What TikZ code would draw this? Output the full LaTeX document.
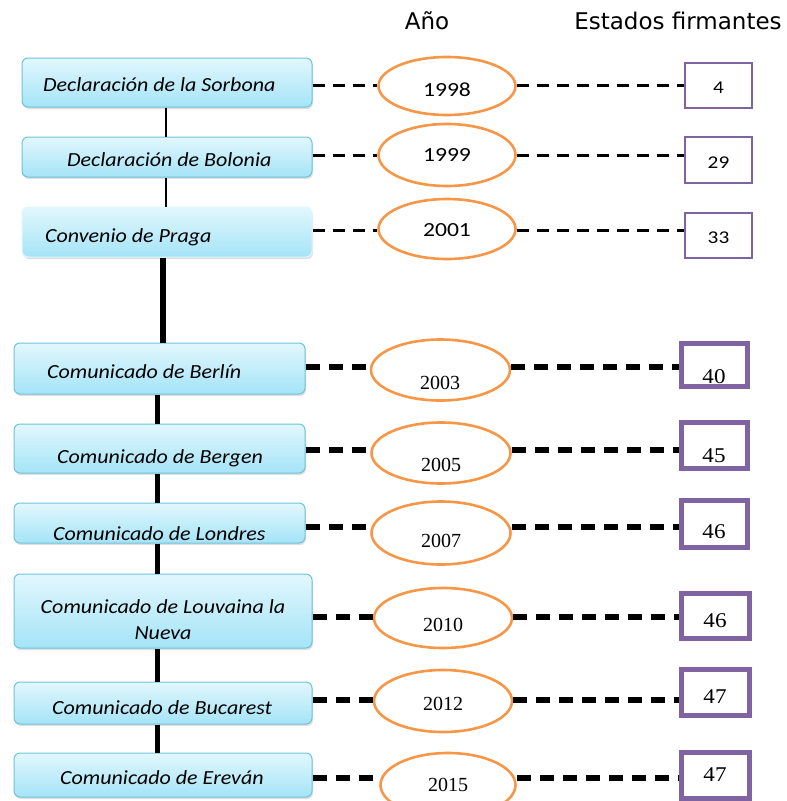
\documentclass[tikz,border=0pt]{standalone}
\usepackage{fontspec}
\usetikzlibrary{shapes.geometric,shadows}
\newfontfamily\boxfont{Carlito}[FakeStretch=1.1]
\newfontfamily\yrfont{Liberation Serif}
\newfontfamily\sqfont{Liberation Serif}[FakeStretch=1.1]
\newfontfamily\hdfont{DejaVu Sans}
\newfontfamily\topnum{Carlito}[FakeStretch=1.18]
\definecolor{boxtop}{HTML}{E2F7FD}
\definecolor{boxbot}{HTML}{A4E4F7}
\definecolor{boxline}{HTML}{6CC3DD}
\definecolor{ellc}{HTML}{F79646}
\definecolor{sqc}{HTML}{8064A2}
\tikzset{
  evbox/.style={rectangle, rounded corners=6pt, draw=boxline, line width=1pt,
     top color=boxtop, bottom color=boxbot, inner sep=0pt,
     drop shadow={opacity=0.25, shadow xshift=1pt, shadow yshift=-2pt}},
  evtext/.style={font=\boxfont\itshape\fontsize{20}{26}\selectfont, inner sep=0pt, anchor=west},
  yearell/.style={ellipse, draw=ellc, line width=2.6pt, inner sep=0pt},
  numsq/.style={rectangle, draw=sqc, inner sep=0pt},
  yrtxt/.style={font=\yrfont\fontsize{20}{20}\selectfont, inner sep=0pt},
  sqtxt/.style={font=\sqfont\fontsize{21}{20}\selectfont, inner sep=0pt},
  toptxt/.style={font=\topnum\fontsize{20}{20}\selectfont, inner sep=0pt},
  topsq/.style={font=\topnum\fontsize{18}{20}\selectfont, inner sep=0pt},
  dashA/.style={dashed, dash pattern=on 12pt off 8pt, line width=3pt},
  dashB/.style={dashed, dash pattern=on 14pt off 9pt, line width=5.5pt},
  hdr/.style={font=\hdfont\fontsize{23}{24}\selectfont, inner sep=0pt}
}
\begin{document}
\begin{tikzpicture}[x=1pt,y=-1pt]
\useasboundingbox (0,0) rectangle (787,801);
% headers
\node[hdr] (hA) at (427,21) {Año};
\node[hdr] (hE) at (678,21) {Estados firmantes};

% ---------- top part ----------
\node[evbox, minimum width=290, minimum height=49] (b1) at (167,82.5) {};
\node[evtext] (t1) at (43,85) {Declaración de la Sorbona};
\node[yearell, minimum width=137, minimum height=58] (e1) at (447,86) {};
\node[toptxt] (y1) at (447,90) {1998};
\node[numsq, line width=2.6pt, minimum width=67, minimum height=45] (s1) at (718.5,85.5) {};
\node[topsq] (n1) at (718.5,88) {4};

\node[evbox, minimum width=290, minimum height=40] (b2) at (167,157) {};
\node[evtext] (t2) at (67,160) {Declaración de Bolonia};
\node[yearell, minimum width=137, minimum height=62] (e2) at (447,155) {};
\node[toptxt] (y2) at (447,155) {1999};
\node[numsq, line width=2.6pt, minimum width=67, minimum height=46] (s2) at (718.5,160) {};
\node[topsq] (n2) at (718.5,163) {29};

\node[evbox, draw=boxtop, minimum width=290, minimum height=50] (b3) at (167,232) {};
\node[evtext] (t3) at (45,237) {Convenio de Praga};
\node[yearell, minimum width=137, minimum height=60] (e3) at (447,229) {};
\node[toptxt] (y3) at (447,230) {2001};
\node[numsq, line width=2.6pt, minimum width=67, minimum height=45] (s3) at (718.5,235.5) {};
\node[topsq] (n3) at (718.5,238) {33};

% ---------- bottom part ----------
\node[evbox, minimum width=291, minimum height=51] (b4) at (159.5,368.5) {};
\node[evtext] (t4) at (47,372) {Comunicado de Berlín};
\node[yearell, minimum width=139, minimum height=61] (e4) at (440.5,370) {};
\node[yrtxt] (y4) at (440,383) {2003};
\node[numsq, line width=5pt, minimum width=66, minimum height=43] (s4) at (714,364.5) {};
\node[sqtxt] (n4) at (714,377) {40};

\node[evbox, minimum width=291, minimum height=49] (b5) at (159.5,448.5) {};
\node[evtext] (t5) at (57,458) {Comunicado de Bergen};
\node[yearell, minimum width=139, minimum height=61] (e5) at (441,453) {};
\node[yrtxt] (y5) at (441,465) {2005};
\node[numsq, line width=5pt, minimum width=66, minimum height=46] (s5) at (714,445) {};
\node[sqtxt] (n5) at (714,456) {45};

\node[evbox, minimum width=291, minimum height=40] (b6) at (159.5,523) {};
\node[evtext] (t6) at (53,534) {Comunicado de Londres};
\node[yearell, minimum width=139, minimum height=63] (e6) at (441,533) {};
\node[yrtxt] (y6) at (441,541) {2007};
\node[numsq, line width=5pt, minimum width=66, minimum height=47] (s6) at (714,523.5) {};
\node[sqtxt] (n6) at (714,532) {46};

\node[evbox, minimum width=298, minimum height=74] (b7) at (163,611) {};
\node[evtext, anchor=center, align=center] (t7) at (163,620) {Comunicado de Louvaina la\\Nueva};
\node[yearell, minimum width=138, minimum height=60] (e7) at (443,618) {};
\node[yrtxt] (y7) at (443,625) {2010};
\node[numsq, line width=5pt, minimum width=68, minimum height=45] (s7) at (715,615.5) {};
\node[sqtxt] (n7) at (715,621) {46};

\node[evbox, minimum width=298, minimum height=42] (b8) at (163,703) {};
\node[evtext] (t8) at (52,708) {Comunicado de Bucarest};
\node[yearell, minimum width=138, minimum height=62] (e8) at (443,701) {};
\node[yrtxt] (y8) at (443,704) {2012};
\node[numsq, line width=5pt, minimum width=68, minimum height=46] (s8) at (715,692) {};
\node[sqtxt] (n8) at (715,697) {47};

\node[evbox, minimum width=298, minimum height=44] (b9) at (163,775) {};
\node[evtext] (t9) at (60,778) {Comunicado de Ereván};
\node[yearell, minimum width=135, minimum height=64] (e9) at (448,785) {};
\node[yrtxt] (y9) at (448,785) {2015};
\node[numsq, line width=5pt, minimum width=68, minimum height=46] (s9) at (715,775) {};
\node[sqtxt] (n9) at (715,775) {47};

% ---------- vertical connectors ----------
\draw[line width=2.6pt] (b1.south -| 166,0) -- (b2.north -| 166,0);
\draw[line width=2.6pt] (b2.south -| 166,0) -- (b3.north -| 166,0);
\draw[line width=5.5pt] (b3.south -| 163,0) -- (b4.north -| 163,0);
\draw[line width=5pt] (b4.south -| 157,0) -- (b5.north -| 157,0);
\draw[line width=5pt] (b5.south -| 157,0) -- (b6.north -| 157,0);
\draw[line width=5pt] (b6.south -| 157,0) -- (b7.north -| 157,0);
\draw[line width=5pt] (b7.south -| 157,0) -- (b8.north -| 157,0);
\draw[line width=5pt] (b8.south -| 157,0) -- (b9.north -| 157,0);

% ---------- dashed connectors ----------
\foreach \i/\y in {1/85,2/155,3/230}{
  \draw[dashA] (b\i.east |- 0,\y) -- (e\i.west |- 0,\y);
  \draw[dashA] (e\i.east |- 0,\y) -- (s\i.west |- 0,\y);
}
\foreach \i/\y in {4/367,5/450,6/527,7/617,8/700,9/778}{
  \draw[dashB] (b\i.east |- 0,\y) -- (e\i.west |- 0,\y);
  \draw[dashB] (e\i.east |- 0,\y) -- (s\i.west |- 0,\y);
}
\end{tikzpicture}
\end{document}
